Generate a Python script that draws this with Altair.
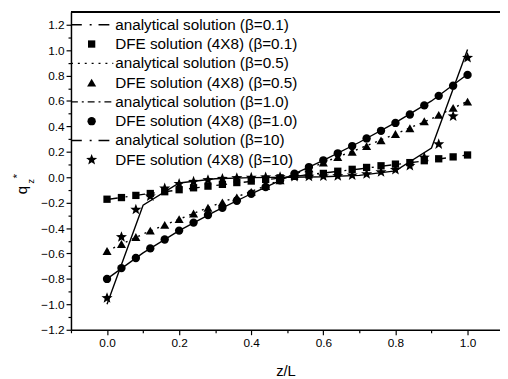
import altair as alt
import pandas as pd

# ---------------- data ----------------
z_dfe = [0.00, 0.04, 0.08, 0.12, 0.16, 0.20, 0.24, 0.28, 0.32, 0.36, 0.40, 0.44, 0.48,
         0.52, 0.56, 0.60, 0.64, 0.68, 0.72, 0.76, 0.80, 0.84, 0.88, 0.92, 0.96, 1.00]
z_ana = [0.0, 0.1, 0.2, 0.3, 0.4, 0.5, 0.6, 0.7, 0.8, 0.9, 1.0]

dfe_b01 = [-0.173, -0.160, -0.143, -0.128, -0.114, -0.098, -0.083, -0.070, -0.056, -0.042, -0.030, -0.017, -0.005,
           0.007, 0.018, 0.030, 0.047, 0.062, 0.077, 0.090, 0.103, 0.115, 0.130, 0.145, 0.160, 0.175]
dfe_b05 = [-0.580, -0.525, -0.470, -0.420, -0.375, -0.330, -0.285, -0.240, -0.198, -0.158, -0.115, -0.070, -0.025,
           0.025, 0.070, 0.115, 0.158, 0.200, 0.245, 0.290, 0.340, 0.385, 0.440, 0.490, 0.545, 0.595]
dfe_b1 = [-0.800, -0.715, -0.635, -0.560, -0.490, -0.420, -0.357, -0.297, -0.240, -0.185, -0.130, -0.077, -0.025,
          0.028, 0.080, 0.133, 0.188, 0.245, 0.305, 0.365, 0.427, 0.493, 0.565, 0.640, 0.720, 0.805]
dfe_b10 = [-0.950, -0.470, -0.255, -0.150, -0.088, -0.052, -0.035, -0.022, -0.012, -0.006, -0.003, 0.000, 0.002,
           0.004, 0.006, 0.008, 0.010, 0.015, 0.025, 0.040, 0.058, 0.090, 0.155, 0.260, 0.480, 0.940]

ana_b01 = [-0.175, -0.135, -0.100, -0.065, -0.033, 0.000, 0.033, 0.065, 0.100, 0.135, 0.175]
ana_b05 = [-0.580, -0.447, -0.330, -0.217, -0.112, 0.000, 0.115, 0.225, 0.340, 0.460, 0.598]
ana_b1 = [-0.800, -0.595, -0.420, -0.268, -0.130, 0.000, 0.132, 0.275, 0.430, 0.600, 0.810]
ana_b10 = [-1.000, -0.220, -0.045, -0.012, -0.003, 0.000, 0.004, 0.015, 0.050, 0.230, 1.005]

betas = ["0.1", "0.5", "1.0", "10"]
legend_labels = [
    "analytical solution (\u03b2=0.1)", "DFE solution (4X8) (\u03b2=0.1)",
    "analytical solution (\u03b2=0.5)", "DFE solution (4X8) (\u03b2=0.5)",
    "analytical solution (\u03b2=1.0)", "DFE solution (4X8) (\u03b2=1.0)",
    "analytical solution (\u03b2=10)", "DFE solution (4X8) (\u03b2=10)",
]
x_tick_values = [-0.1, 0.0, 0.1, 0.2, 0.3, 0.4, 0.5, 0.6, 0.7, 0.8, 0.9, 1.0]
y_tick_values = [-1.2, -1.1, -1.0, -0.9, -0.8, -0.7, -0.6, -0.5, -0.4, -0.3, -0.2, -0.1, 0.0,
                 0.1, 0.2, 0.3, 0.4, 0.5, 0.6, 0.7, 0.8, 0.9, 1.0, 1.1, 1.2]

# ---------------- styles ----------------
FONT = "Liberation Sans"
W, H = 436, 323
STAR = ("M0,-1L0.25,-0.33L0.951,-0.309L0.4,0.13L0.588,0.809L0,0.42"
        "L-0.588,0.809L-0.4,0.13L-0.951,-0.309L-0.25,-0.33Z")
shapes = ["square", "triangle-up", "circle", STAR]
sizes = [55, 85, 72, 140]
legend_dash = [[11, 8, 2, 7], [2, 5], [7, 4, 2, 4], [11, 8, 2, 7]]
plot_dash = [[11, 8, 2, 7], [2, 5], [], []]

x_scale = alt.Scale(domain=[-0.1, 1.09], nice=False, zero=False)
y_scale = alt.Scale(domain=[-1.2, 1.3], nice=False, zero=False)

major_test = "abs(round(datum.value * 10)) % 2 == 0"
x_axis = alt.Axis(
    values=x_tick_values, title="z/L",
    labelExpr=f"{major_test} ? format(datum.value, '.1f') : ''",
    tickSize={"condition": {"test": major_test, "value": 5}, "value": 3},
    labelPadding=3, titlePadding=15, titleFontSize=15, titleFontWeight="normal",
)
y_axis = alt.Axis(
    values=y_tick_values, title=None,
    labelExpr=f"{major_test} ? format(datum.value, '.1f') : ''",
    tickSize={"condition": {"test": major_test, "value": 5}, "value": 3},
    labelPadding=2,
)

ana_sets = [ana_b01, ana_b05, ana_b1, ana_b10]
dfe_sets = [dfe_b01, dfe_b05, dfe_b1, dfe_b10]

layers = []
for i, b in enumerate(betas):
    dfa = pd.DataFrame({"z": z_ana, "q": ana_sets[i]})
    line_kw = dict(color="black", strokeWidth=1.4)
    if plot_dash[i]:
        line_kw["strokeDash"] = plot_dash[i]
    layers.append(
        alt.Chart(dfa).mark_line(**line_kw).encode(
            x=alt.X("z:Q", scale=x_scale, axis=x_axis),
            y=alt.Y("q:Q", scale=y_scale, axis=y_axis),
        )
    )
for i, b in enumerate(betas):
    dfd = pd.DataFrame({"z": z_dfe, "q": dfe_sets[i]})
    layers.append(
        alt.Chart(dfd).mark_point(shape=shapes[i], size=sizes[i], filled=True,
                                  color="black", opacity=1).encode(
            x=alt.X("z:Q", scale=x_scale, axis=x_axis),
            y=alt.Y("q:Q", scale=y_scale, axis=y_axis),
        )
    )

# ---------------- legend (manual, top-left inside plot) ----------------
row0, row_step = 13, 19.6
legend_df = pd.DataFrame({"label": legend_labels})
legend_df["py"] = [row0 + k * row_step for k in range(len(legend_labels))]
legend_df["px"] = 45
layers.append(
    alt.Chart(legend_df).mark_text(align="left", baseline="middle", font=FONT,
                                   fontSize=15.5, color="black").encode(
        x=alt.X("px:Q", scale=None), y=alt.Y("py:Q", scale=None), text="label:N"
    )
)
for i in range(4):
    yl = row0 + (2 * i) * row_step
    ym = row0 + (2 * i + 1) * row_step
    seg = pd.DataFrame({"lx": [0], "lx2": [43], "ly": [yl]})
    layers.append(
        alt.Chart(seg).mark_rule(color="black", strokeWidth=1.4,
                                 strokeDash=legend_dash[i]).encode(
            x=alt.X("lx:Q", scale=None), x2="lx2:Q", y=alt.Y("ly:Q", scale=None)
        )
    )
    mk = pd.DataFrame({"mx": [21], "my": [ym]})
    layers.append(
        alt.Chart(mk).mark_point(shape=shapes[i], size=sizes[i], filled=True,
                                 color="black", opacity=1).encode(
            x=alt.X("mx:Q", scale=None), y=alt.Y("my:Q", scale=None)
        )
    )

# top frame line
frame = pd.DataFrame({"fx": [0], "fx2": [W], "fy": [0]})
layers.append(
    alt.Chart(frame).mark_rule(color="black", strokeWidth=2).encode(
        x=alt.X("fx:Q", scale=None), x2="fx2:Q", y=alt.Y("fy:Q", scale=None)
    )
)

# y-axis title q*_z (rotated)
ttl = pd.DataFrame({"t": ["q", "*", "z"], "tx": [-50, -55, -41], "ty": [181, 167, 172]})
layers.append(alt.Chart(ttl).transform_filter("datum.t == 'q'").mark_text(
    angle=270, font=FONT, fontSize=15, align="center", baseline="middle", color="black")
    .encode(x=alt.X("tx:Q", scale=None), y=alt.Y("ty:Q", scale=None), text="t:N"))
layers.append(alt.Chart(ttl).transform_filter("datum.t == '*'").mark_text(
    angle=270, font=FONT, fontSize=12, align="center", baseline="middle", color="black")
    .encode(x=alt.X("tx:Q", scale=None), y=alt.Y("ty:Q", scale=None), text="t:N"))
layers.append(alt.Chart(ttl).transform_filter("datum.t == 'z'").mark_text(
    angle=270, font=FONT, fontSize=9, align="center", baseline="middle", color="black")
    .encode(x=alt.X("tx:Q", scale=None), y=alt.Y("ty:Q", scale=None), text="t:N"))

chart = alt.layer(*layers).properties(
    width=W, height=H,
    autosize=alt.AutoSizeParams(type="none"),
    padding={"left": 64, "top": 1, "right": 0, "bottom": 47},
).configure_view(stroke=None).configure_axis(
    domainColor="black", domainWidth=1.5, tickColor="black", tickWidth=1.2,
    labelColor="black", labelFont=FONT, labelFontSize=12,
    titleColor="black", titleFont=FONT, grid=False,
)

chart.save("out.html", embed_options={"renderer": "svg", "actions": False})
